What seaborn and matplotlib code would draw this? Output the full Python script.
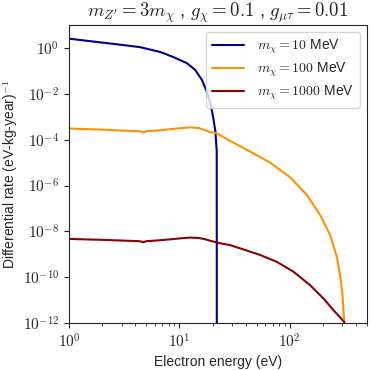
import numpy as np
import pandas as pd
import matplotlib
matplotlib.use("Agg")
import matplotlib.pyplot as plt
import matplotlib.ticker as mticker
import seaborn as sns

# ---- data (energy in eV, rate as log10 of (eV-kg-year)^-1) ----
E_10 = [1.0, 2.0, 3.0, 4.4, 6.7, 8.8, 11.7, 13.9, 16.0, 17.7, 19.3, 20.3,
        21.2, 21.8, 21.85]
log10_rate_10 = [0.41, 0.24, 0.14, 0.04, -0.17, -0.39, -0.66, -0.95, -1.39,
                 -1.90, -2.48, -3.06, -3.64, -4.5, -14.0]

E_100 = [1.0, 2.0, 3.0, 4.4, 4.7, 5.0, 7.0, 10.0, 12.5, 15.0, 17.0, 19.0,
         21.8, 28.8, 43.8, 66.4, 100.9, 142.9, 188.8, 232.5, 267.0, 290.6,
         303.0, 311.0, 313.0]
log10_rate_100 = [-3.51, -3.56, -3.60, -3.63, -3.69, -3.63, -3.58, -3.50,
                  -3.46, -3.49, -3.58, -3.67, -3.72, -4.05, -4.52, -5.00,
                  -5.64, -6.41, -7.29, -8.16, -9.11, -10.13, -11.0, -11.95,
                  -13.0]

E_1000 = [1.0, 2.0, 3.0, 4.4, 4.7, 5.0, 7.0, 10.0, 12.5, 15.0, 17.0, 19.0,
          23.4, 28.8, 38.1, 53.9, 76.3, 108.0, 153.0, 202.0, 249.0, 311.0,
          318.0]
log10_rate_1000 = [-8.33, -8.37, -8.40, -8.43, -8.48, -8.43, -8.38, -8.31,
                   -8.27, -8.29, -8.34, -8.41, -8.52, -8.60, -8.79, -9.03,
                   -9.33, -9.76, -10.35, -10.93, -11.44, -11.95, -12.1]

labels = [r"$m_\chi = 10$ MeV", r"$m_\chi = 100$ MeV", r"$m_\chi = 1000$ MeV"]
colors = ["#00008B", "#FF9100", "#8B0000"]

df = pd.concat([
    pd.DataFrame({"E": E_10, "R": np.power(10.0, log10_rate_10), "mass": labels[0]}),
    pd.DataFrame({"E": E_100, "R": np.power(10.0, log10_rate_100), "mass": labels[1]}),
    pd.DataFrame({"E": E_1000, "R": np.power(10.0, log10_rate_1000), "mass": labels[2]}),
])

sns.set_style("ticks")
plt.rcParams["font.family"] = ["Liberation Sans", "DejaVu Sans"]
plt.rcParams["mathtext.fontset"] = "cm"

fig = plt.figure(figsize=(3.74, 3.70), dpi=100)
ax = fig.add_axes([0.1845, 0.127, 0.7965, 0.805])

sns.lineplot(data=df, x="E", y="R", hue="mass", palette=colors,
             hue_order=labels, sort=False, estimator=None, lw=1.5, ax=ax)

ax.set_xscale("log")
ax.set_yscale("log")
ax.set_xlim(1, 500)
ax.set_ylim(1e-12, 1e1)

ax.yaxis.set_major_locator(mticker.FixedLocator([10.0**k for k in range(-12, 1, 2)]))
ax.yaxis.set_minor_locator(mticker.NullLocator())
ax.xaxis.set_major_locator(mticker.FixedLocator([1, 10, 100]))
ax.xaxis.set_minor_locator(mticker.LogLocator(base=10, subs=np.arange(2, 10), numticks=20))
ax.xaxis.set_minor_formatter(mticker.NullFormatter())
fmt = mticker.FuncFormatter(lambda v, p: r"$10^{%d}$" % int(round(np.log10(v))))
ax.xaxis.set_major_formatter(fmt)
ax.yaxis.set_major_formatter(fmt)
ax.tick_params(axis="both", which="major", labelsize=11, length=3.5, width=0.8, colors="#262626")
ax.tick_params(axis="x", which="minor", length=2, width=0.6)
for s in ax.spines.values():
    s.set_linewidth(0.8)
    s.set_color("#262626")

ax.set_xlabel("Electron energy (eV)", fontsize=10, labelpad=3)
ax.set_ylabel(r"Differential rate (eV-kg-year)$^{-1}$", fontsize=10, labelpad=2)
ax.set_title(r"$m_{Z'} = 3m_\chi$ , $g_\chi = 0.1$ , $g_{\mu\tau} = 0.01$", fontsize=13.5, pad=3)

leg = ax.legend(loc="upper right", fontsize=10, frameon=True, handlelength=2.3,
                handletextpad=1.0, labelspacing=0.35, borderaxespad=0.5)
leg.get_frame().set_edgecolor("#cccccc")

fig.savefig("out.png", dpi=100)
